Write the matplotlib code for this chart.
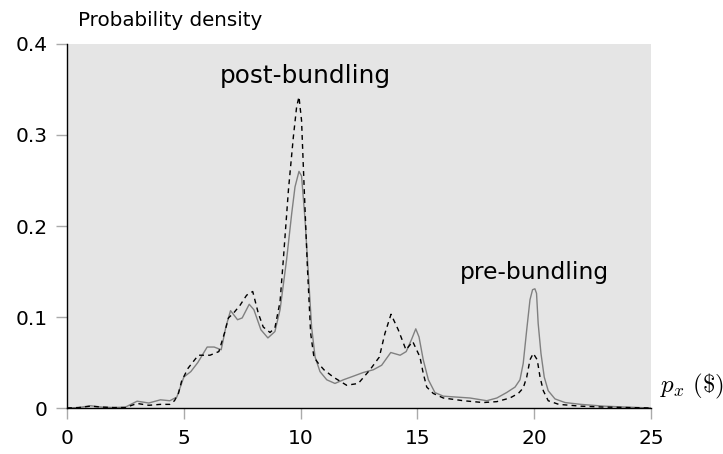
import matplotlib.pyplot as plt

plt.rcParams['mathtext.fontset'] = 'cm'
plt.rcParams['font.family'] = ['DejaVu Sans']

# price density before bundling (solid grey)
pre_x = [0, 0.5, 1.0, 1.5, 2.0, 2.5, 3.0, 3.5, 4.0, 4.4, 4.7, 5.0, 5.3, 5.6,
         6.0, 6.3, 6.6, 6.8, 7.0, 7.3, 7.5, 7.8, 8.0, 8.3, 8.6, 8.9, 9.12,
         9.4, 9.62, 9.76, 9.93, 10.04, 10.19, 10.33, 10.47, 10.62, 10.83,
         11.12, 11.47, 11.83, 12.26, 12.68, 13.11, 13.47, 13.86, 14.26, 14.52,
         14.76, 14.93, 15.07, 15.25, 15.47, 15.75, 16.11, 16.68, 17.25, 17.97,
         18.4, 18.82, 19.18, 19.39, 19.53, 19.68, 19.82, 19.93, 20.03, 20.1,
         20.17, 20.29, 20.43, 20.6, 20.89, 21.32, 22.0, 23.0, 24.0, 25.0]
pre_y = [0, 0.0005, 0.0025, 0.001, 0.0005, 0.001, 0.0075, 0.0055, 0.009,
         0.008, 0.012, 0.034, 0.040, 0.050, 0.067, 0.067, 0.064, 0.089, 0.107,
         0.097, 0.099, 0.114, 0.108, 0.086, 0.077, 0.084, 0.108, 0.163, 0.214,
         0.243, 0.260, 0.255, 0.207, 0.148, 0.089, 0.056, 0.040, 0.031, 0.027,
         0.031, 0.035, 0.039, 0.042, 0.047, 0.061, 0.058, 0.062, 0.076, 0.087,
         0.078, 0.053, 0.031, 0.017, 0.013, 0.012, 0.011, 0.008, 0.011, 0.017,
         0.023, 0.031, 0.049, 0.086, 0.119, 0.130, 0.131, 0.126, 0.093, 0.060,
         0.034, 0.019, 0.010, 0.006, 0.004, 0.002, 0.001, 0]

# price density after bundling (dashed black)
post_x = [0, 0.5, 1.0, 1.5, 2.0, 2.5, 3.0, 3.5, 4.0, 4.4, 4.6, 4.77, 4.91,
          5.19, 5.62, 6.12, 6.5, 6.76, 6.91, 7.12, 7.41, 7.69, 7.95, 8.19,
          8.40, 8.69, 8.9, 9.12, 9.26, 9.48, 9.69, 9.83, 9.93, 10.04, 10.14,
          10.29, 10.43, 10.57, 10.76, 11.0, 11.4, 11.97, 12.47, 12.97, 13.37,
          13.61, 13.87, 14.18, 14.51, 14.80, 15.11, 15.25, 15.4, 15.68, 16.11,
          16.97, 17.82, 18.4, 18.96, 19.32, 19.53, 19.68, 19.82, 19.96, 20.13,
          20.25, 20.39, 20.6, 21.05, 22.0, 23.0, 24.0, 25.0]
post_y = [0, 0.0005, 0.002, 0.001, 0.0005, 0.0005, 0.005, 0.003, 0.004, 0.004,
          0.008, 0.016, 0.030, 0.044, 0.058, 0.058, 0.062, 0.084, 0.099, 0.104,
          0.113, 0.124, 0.128, 0.104, 0.089, 0.083, 0.088, 0.117, 0.163, 0.240,
          0.298, 0.331, 0.342, 0.316, 0.250, 0.155, 0.082, 0.056, 0.049, 0.042,
          0.034, 0.025, 0.027, 0.042, 0.056, 0.082, 0.103, 0.086, 0.064, 0.073,
          0.056, 0.038, 0.023, 0.016, 0.011, 0.008, 0.006, 0.007, 0.011, 0.016,
          0.022, 0.034, 0.053, 0.060, 0.053, 0.034, 0.019, 0.008, 0.004, 0.002,
          0.001, 0.0005, 0]

x_ticks = [0, 5, 10, 15, 20, 25]
y_ticks = [0, 0.1, 0.2, 0.3, 0.4]
y_tick_labels = ['0', '0.1', '0.2', '0.3', '0.4']

fig = plt.figure(figsize=(7.23, 4.54), dpi=100)
ax = fig.add_axes([0.0927, 0.1013, 0.8077, 0.8018])
ax.set_facecolor('#e5e5e5')

ax.plot(pre_x, pre_y, color='#808080', linewidth=1.0)
ax.plot(post_x, post_y, color='black', linewidth=1.0, dashes=(3.5, 3))

ax.set_xlim(0, 25)
ax.set_ylim(0, 0.4)
ax.set_xticks(x_ticks)
ax.set_xticklabels([str(t) for t in x_ticks])
ax.set_yticks(y_ticks)
ax.set_yticklabels(y_tick_labels)

for side in ['top', 'right']:
    ax.spines[side].set_visible(False)
for side in ['left', 'bottom']:
    ax.spines[side].set_color('black')
    ax.spines[side].set_linewidth(1.0)
ax.tick_params(axis='both', direction='out', length=8, width=1,
               color='#aaaaaa', labelsize=14.5, labelcolor='black')
ax.tick_params(axis='y', pad=6)
ax.tick_params(axis='x', pad=7)

# axis titles
ax.text(0.019, 1.05, 'Probability density', transform=ax.transAxes,
        fontsize=14.3, ha='left', va='baseline')
ax.text(1.015, 0.06, r'$p_x\ (\$)$', transform=ax.transAxes,
        fontsize=18, ha='left', va='center')

# curve labels
ax.text(10.19, 0.357, 'post-bundling', fontsize=17.8, ha='center', va='baseline')
ax.text(20.01, 0.142, 'pre-bundling', fontsize=16.8, ha='center', va='baseline')

plt.savefig('out.png', dpi=100)
